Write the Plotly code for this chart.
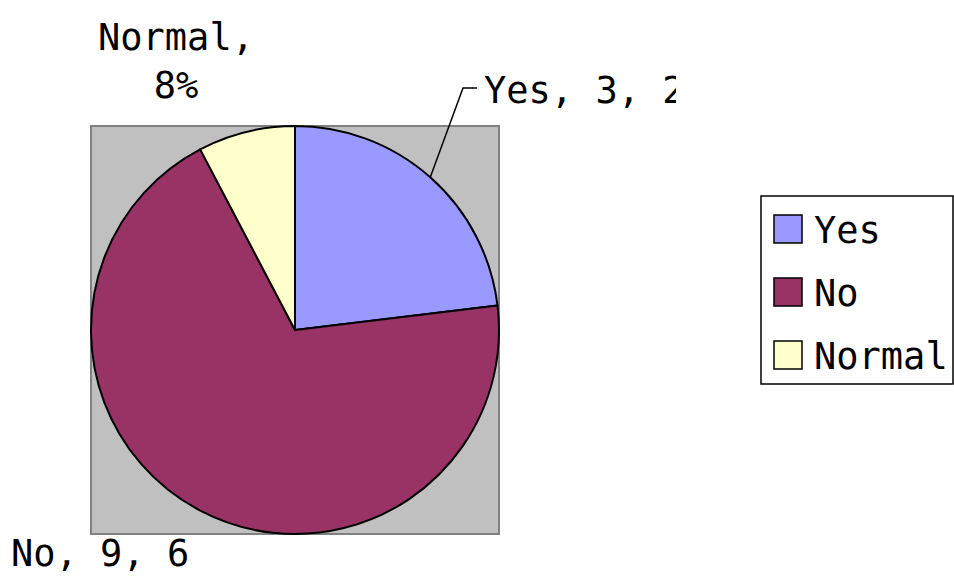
import math
import plotly.graph_objects as go

# ---- data ----
labels = ["Yes", "No", "Normal"]
values = [3, 9, 1]
colors = ["#9999FF", "#993366", "#FFFFCC"]

W, H = 954, 576
FONT = "DejaVu Sans Mono"
FS = 37

def px(x):
    return x / W

def py(y):
    return 1 - y / H

total = sum(values)
pcts = [round(v / total * 100) for v in values]

# pie geometry (pixels)
cx, cy, R = 295, 330, 204
sq = (91, 126, 499, 534)

fig = go.Figure()
fig.add_trace(go.Pie(
    labels=labels,
    values=values,
    marker=dict(colors=colors, line=dict(color="black", width=2)),
    sort=False,
    direction="clockwise",
    rotation=0,
    textinfo="none",
    hoverinfo="label+value+percent",
    showlegend=False,
    domain=dict(x=[px(sq[0]), px(sq[2])], y=[py(sq[3]), py(sq[1])]),
))

shapes = []
# gray plot area behind pie
shapes.append(dict(type="rect", xref="paper", yref="paper", layer="below",
                   x0=px(sq[0]), x1=px(sq[2]), y0=py(sq[3]), y1=py(sq[1]),
                   fillcolor="#C0C0C0", line=dict(color="#808080", width=2)))

# leader line for "Yes" label (from middle of Yes slice edge)
mid = values[0] / total * 360 / 2
ex = cx + R * math.sin(math.radians(mid))
ey = cy - R * math.cos(math.radians(mid))
shapes.append(dict(type="path", xref="paper", yref="paper",
                   path=f"M {px(ex)} {py(ey)} L {px(463)} {py(88)} L {px(477)} {py(88)}",
                   line=dict(color="black", width=1.5)))

# legend box
shapes.append(dict(type="rect", xref="paper", yref="paper",
                   x0=px(761), x1=px(953), y0=py(384), y1=py(196),
                   fillcolor="white", line=dict(color="black", width=1.5), layer="below"))

annotations = []
# data labels
annotations.append(dict(xref="paper", yref="paper", x=px(483), y=py(90),
                        xanchor="left", yanchor="middle", align="left",
                        text=f"{labels[0]}, {values[0]}, {pcts[0]}%",
                        width=192, borderpad=0,
                        showarrow=False, font=dict(family=FONT, size=FS, color="black")))
annotations.append(dict(xref="paper", yref="paper", x=px(10), y=py(553),
                        xanchor="left", yanchor="middle", align="left", valign="middle",
                        text=f"{labels[1]}, {values[1]}, {pcts[1]}%",
                        width=180, height=42, borderpad=0,
                        showarrow=False, font=dict(family=FONT, size=FS, color="black")))
annotations.append(dict(xref="paper", yref="paper", x=px(176), y=py(62),
                        xanchor="center", yanchor="middle", align="center",
                        text=f"{labels[2]},<br>{pcts[2]}%",
                        showarrow=False, font=dict(family=FONT, size=FS, color="black")))

# legend entries
for i, (lab, col) in enumerate(zip(labels, colors)):
    yc = 229 + 63 * i
    shapes.append(dict(type="rect", xref="paper", yref="paper",
                       x0=px(774), x1=px(802), y0=py(yc + 14), y1=py(yc - 14),
                       fillcolor=col, line=dict(color="black", width=1.5)))
    annotations.append(dict(xref="paper", yref="paper", x=px(812), y=py(yc + 1),
                            xanchor="left", yanchor="middle", align="left",
                            text=lab, showarrow=False,
                            font=dict(family=FONT, size=FS, color="black")))

fig.update_layout(
    width=W, height=H,
    margin=dict(l=0, r=0, t=0, b=0),
    paper_bgcolor="white",
    plot_bgcolor="white",
    shapes=shapes,
    annotations=annotations,
    showlegend=False,
)

fig.write_html("out.html")
